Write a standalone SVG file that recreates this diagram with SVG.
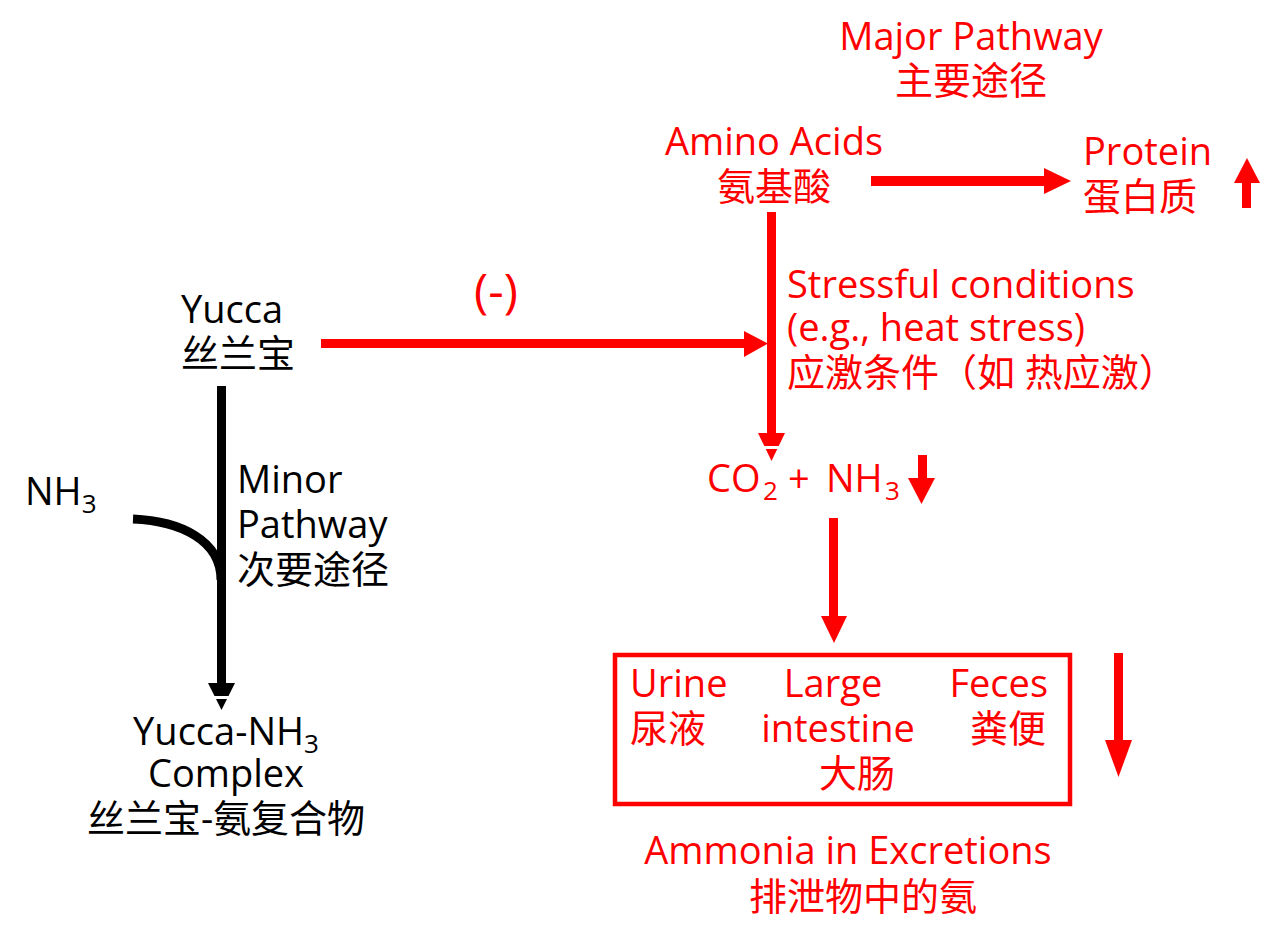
<svg xmlns="http://www.w3.org/2000/svg" width="1274" height="948" viewBox="0 0 1274 948">
<style>
text{font-family:"Open Sans","Noto Sans CJK SC",sans-serif;font-size:38px}
.r{fill:#ff0000}
.k{fill:#000000}
.sub{font-size:26px}
</style>
<rect width="1274" height="948" fill="#ffffff"/>
<g id="connectors">
  <!-- Amino -> Protein -->
  <rect x="871" y="176" width="176" height="10" class="r"/>
  <polygon points="1044,168 1071,181 1044,194" class="r"/>
  <!-- Protein up arrow -->
  <rect x="1242" y="180" width="9" height="28" class="r"/>
  <polygon points="1234,183 1247,158 1260,183" class="r"/>
  <!-- Amino down -->
  <rect x="767" y="212" width="9" height="224" class="r"/>
  <polygon points="758,433 785,433 771.5,461" class="r"/>
  <rect x="755" y="446" width="34" height="3" fill="#ffffff"/>
  <!-- Yucca -> stress -->
  <rect x="321" y="339" width="426" height="9" class="r"/>
  <polygon points="744,331 768,343.5 744,357" class="r"/>
  <!-- NH3 small down arrow -->
  <rect x="918" y="455" width="9" height="26" class="r"/>
  <polygon points="908,478 935,478 921.5,504" class="r"/>
  <!-- CO2 -> box -->
  <rect x="829" y="518" width="9" height="100" class="r"/>
  <polygon points="821,616 847,616 834,643" class="r"/>
  <!-- right down arrow -->
  <rect x="1114" y="653" width="9" height="90" class="r"/>
  <polygon points="1105,740 1132,740 1118.5,777" class="r"/>
  <!-- black minor pathway -->
  <rect x="217" y="386" width="9" height="300" class="k"/>
  <polygon points="208,683 235,683 221.5,710" class="k"/>
  <rect x="205" y="696" width="34" height="3" fill="#ffffff"/>
  <path d="M133,519 C180,521 221,540 221,580" fill="none" stroke="#000" stroke-width="9"/>
</g>
<g id="major-pathway" class="r">
  <text x="971" y="50" text-anchor="middle">Major Pathway</text>
  <text x="971" y="94" text-anchor="middle">主要途径</text>
</g>
<g id="amino-acids" class="r">
  <text x="774" y="155" text-anchor="middle">Amino Acids</text>
  <text x="774" y="200" text-anchor="middle">氨基酸</text>
</g>
<g id="protein" class="r">
  <text x="1083" y="165">Protein</text>
  <text x="1083" y="210">蛋白质</text>
</g>
<g id="inhibit" class="r">
  <text x="496" y="308" text-anchor="middle" style="font-size:48px">(-)</text>
</g>
<g id="stress" class="r">
  <text x="787" y="298">Stressful conditions</text>
  <text x="787" y="341">(e.g., heat stress)</text>
  <text x="787" y="386">应激条件（如 热应激）</text>
</g>
<g id="co2-nh3" class="r">
  <text y="492"><tspan x="707">CO</tspan><tspan class="sub" x="763" y="500">2</tspan><tspan x="788" y="492">+</tspan><tspan x="826">NH</tspan><tspan class="sub" x="885" y="500">3</tspan></text>
</g>
<g id="excretions" class="r">
  <rect x="615" y="655" width="455" height="149" fill="none" stroke="#ff0000" stroke-width="4.5"/>
  <text x="630" y="697">Urine</text>
  <text x="630" y="742">尿液</text>
  <text x="833" y="697" text-anchor="middle">Large</text>
  <text x="838" y="742" text-anchor="middle">intestine</text>
  <text x="857" y="787" text-anchor="middle">大肠</text>
  <text x="1048" y="697" text-anchor="end">Feces</text>
  <text x="1046" y="742" text-anchor="end">粪便</text>
</g>
<g id="ammonia-excretions" class="r">
  <text x="848" y="864" text-anchor="middle">Ammonia in Excretions</text>
  <text x="863" y="910" text-anchor="middle">排泄物中的氨</text>
</g>
<g id="yucca" class="k">
  <text x="181" y="323">Yucca</text>
  <text x="181" y="367">丝兰宝</text>
</g>
<g id="nh3" class="k">
  <text x="25" y="505">NH<tspan class="sub" dy="8">3</tspan></text>
</g>
<g id="minor-pathway" class="k">
  <text x="237" y="493">Minor</text>
  <text x="237" y="538">Pathway</text>
  <text x="237" y="583">次要途径</text>
</g>
<g id="yucca-nh3-complex" class="k">
  <text x="226" y="745" text-anchor="middle">Yucca-NH<tspan class="sub" dy="8">3</tspan></text>
  <text x="226" y="787" text-anchor="middle">Complex</text>
  <text x="226" y="832" text-anchor="middle">丝兰宝-氨复合物</text>
</g>
</svg>
